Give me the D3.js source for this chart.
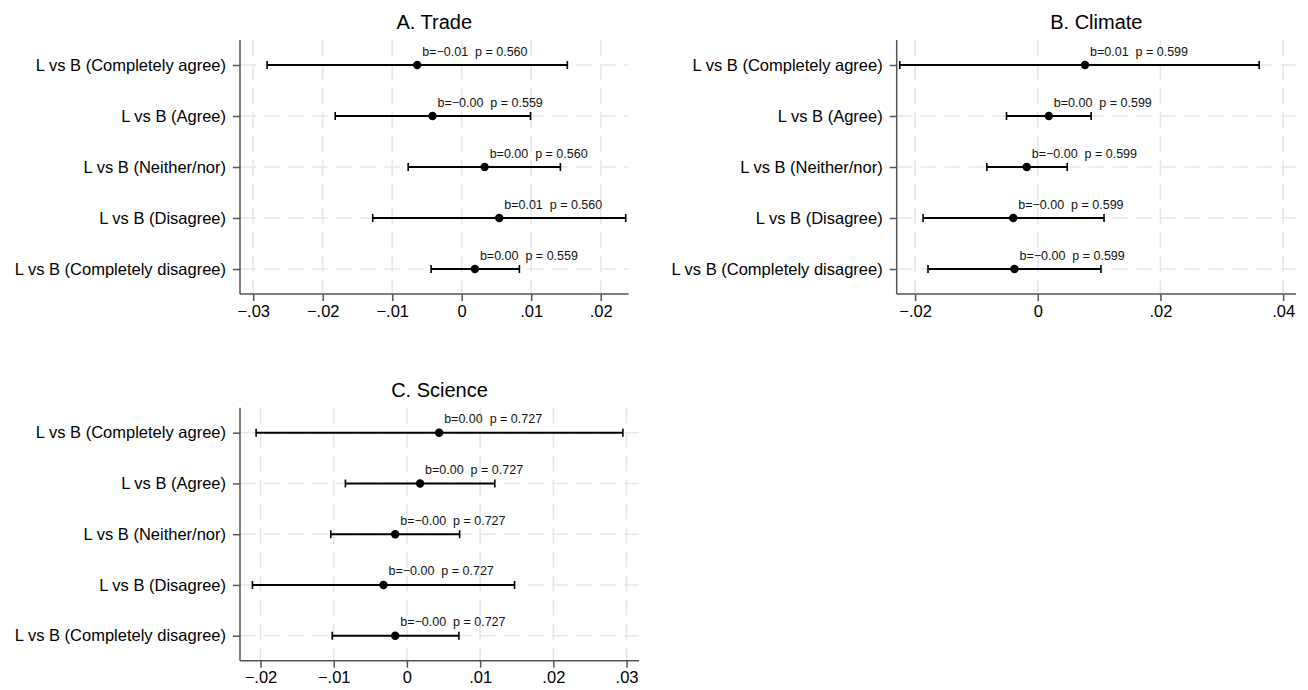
<!DOCTYPE html>
<html>
<head>
<meta charset="utf-8">
<script src="https://cdn.jsdelivr.net/npm/d3@7"></script>
<style>
  html, body { margin: 0; padding: 0; background: #fff; }
  svg { display: block; font-family: "Liberation Sans", Arial, sans-serif; }
</style>
</head>
<body>
<svg id="chart" width="1308" height="690"></svg>
<script>
// ---------- DATA ----------
const categories = [
  "L vs B (Completely agree)",
  "L vs B (Agree)",
  "L vs B (Neither/nor)",
  "L vs B (Disagree)",
  "L vs B (Completely disagree)"
];

// Panel A. Trade
const tradeEst   = [-0.0064, -0.0042, 0.0033, 0.0054, 0.0019];
const tradeLow   = [-0.0280, -0.0182, -0.0077, -0.0128, -0.0044];
const tradeHigh  = [0.0152, 0.0099, 0.0142, 0.0236, 0.0083];
const tradeB     = ["\u22120.01", "\u22120.00", "0.00", "0.01", "0.00"];
const tradeP     = ["0.560", "0.559", "0.560", "0.560", "0.559"];
const tradeTicks = [-0.03, -0.02, -0.01, 0, 0.01, 0.02];

// Panel B. Climate
const climateEst   = [0.0077, 0.0018, -0.0018, -0.0040, -0.0038];
const climateLow   = [-0.0225, -0.0051, -0.0083, -0.0187, -0.0179];
const climateHigh  = [0.0361, 0.0087, 0.0048, 0.0108, 0.0103];
const climateB     = ["0.01", "0.00", "\u22120.00", "\u22120.00", "\u22120.00"];
const climateP     = ["0.599", "0.599", "0.599", "0.599", "0.599"];
const climateTicks = [-0.02, 0, 0.02, 0.04];

// Panel C. Science
const scienceEst   = [0.0044, 0.0018, -0.0016, -0.0032, -0.0016];
const scienceLow   = [-0.0206, -0.0084, -0.0104, -0.0211, -0.0102];
const scienceHigh  = [0.0295, 0.0120, 0.0072, 0.0147, 0.0071];
const scienceB     = ["0.00", "0.00", "\u22120.00", "\u22120.00", "\u22120.00"];
const scienceP     = ["0.727", "0.727", "0.727", "0.727", "0.727"];
const scienceTicks = [-0.02, -0.01, 0, 0.01, 0.02, 0.03];

const panels = [
  { title: "A. Trade",   est: tradeEst,   low: tradeLow,   high: tradeHigh,   b: tradeB,   p: tradeP,
    ticks: tradeTicks,   domain: [-0.0319, 0.0240], left: 240,   right: 628.5, top: 40,  bottom: 294 },
  { title: "B. Climate", est: climateEst, low: climateLow, high: climateHigh, b: climateB, p: climateP,
    ticks: climateTicks, domain: [-0.0230, 0.0421], left: 896.7, right: 1296,  top: 40,  bottom: 294 },
  { title: "C. Science", est: scienceEst, low: scienceLow, high: scienceHigh, b: scienceB, p: scienceP,
    ticks: scienceTicks, domain: [-0.0228, 0.0317], left: 240,   right: 639,   top: 407.7, bottom: 660.7 }
];

// ---------- DRAW ----------
const svg = d3.select("#chart");
const gridColor = "#e6e6e6";
const axisColor = "#555";
const tickFmt = v => v === 0 ? "0" : (v < 0 ? "\u2212" : "") + d3.format(".2f")(Math.abs(v)).replace(/^0/, "");

panels.forEach(P => {
  const g = svg.append("g");
  const x = d3.scaleLinear().domain(P.domain).range([P.left, P.right]);
  const y = d3.scalePoint().domain(categories).range([P.top + 25, P.bottom - 25]);

  // gridlines
  g.append("g").selectAll("line.vg").data(P.ticks).join("line")
    .attr("x1", d => x(d)).attr("x2", d => x(d))
    .attr("y1", P.top).attr("y2", P.bottom)
    .attr("stroke", gridColor).attr("stroke-width", 1.6).attr("stroke-dasharray", "16,8");
  g.append("g").selectAll("line.hg").data(categories).join("line")
    .attr("x1", P.left).attr("x2", P.right)
    .attr("y1", d => y(d)).attr("y2", d => y(d))
    .attr("stroke", gridColor).attr("stroke-width", 1.6).attr("stroke-dasharray", "16,8");

  // rows
  const rows = categories.map((c, i) => ({ c, est: P.est[i], low: P.low[i], high: P.high[i], b: P.b[i], p: P.p[i] }));
  const rg = g.append("g").selectAll("g").data(rows).join("g");
  rg.append("line")
    .attr("x1", d => x(d.low)).attr("x2", d => x(d.high))
    .attr("y1", d => y(d.c)).attr("y2", d => y(d.c))
    .attr("stroke", "#000").attr("stroke-width", 2);
  rg.append("line")
    .attr("x1", d => x(d.low)).attr("x2", d => x(d.low))
    .attr("y1", d => y(d.c) - 4).attr("y2", d => y(d.c) + 4)
    .attr("stroke", "#000").attr("stroke-width", 1.6);
  rg.append("line")
    .attr("x1", d => x(d.high)).attr("x2", d => x(d.high))
    .attr("y1", d => y(d.c) - 4).attr("y2", d => y(d.c) + 4)
    .attr("stroke", "#000").attr("stroke-width", 1.6);
  rg.append("circle")
    .attr("cx", d => x(d.est)).attr("cy", d => y(d.c)).attr("r", 4.2)
    .attr("fill", "#000");
  rg.append("text")
    .attr("x", d => x(d.est) + 5).attr("y", d => y(d.c) - 9.5)
    .attr("font-size", 12.5).attr("fill", "#111")
    .style("white-space", "pre")
    .text(d => "b=" + d.b + "  p = " + d.p);

  // axes
  const xAxis = d3.axisBottom(x).tickValues(P.ticks).tickSize(7).tickPadding(4).tickFormat(tickFmt);
  const xg = g.append("g").attr("transform", `translate(0,${P.bottom})`).call(xAxis);
  xg.select(".domain").attr("d", `M${P.left},0H${P.right}`);
  const yAxis = d3.axisLeft(y).tickSize(7).tickPadding(7);
  const yg = g.append("g").attr("transform", `translate(${P.left},0)`).call(yAxis);
  yg.select(".domain").attr("d", `M0,${P.top}V${P.bottom}`);
  [xg, yg].forEach(a => {
    a.select(".domain").attr("stroke", axisColor).attr("stroke-width", 1.5);
    a.selectAll(".tick line").attr("stroke", axisColor).attr("stroke-width", 1.5);
    a.selectAll(".tick text").attr("fill", "#000").attr("font-size", 16.5)
      .attr("font-family", "'Liberation Sans', Arial, sans-serif");
  });

  // title
  g.append("text")
    .attr("x", (P.left + P.right) / 2).attr("y", P.top - 11)
    .attr("text-anchor", "middle").attr("font-size", 20).attr("fill", "#000")
    .text(P.title);
});
</script>
</body>
</html>
